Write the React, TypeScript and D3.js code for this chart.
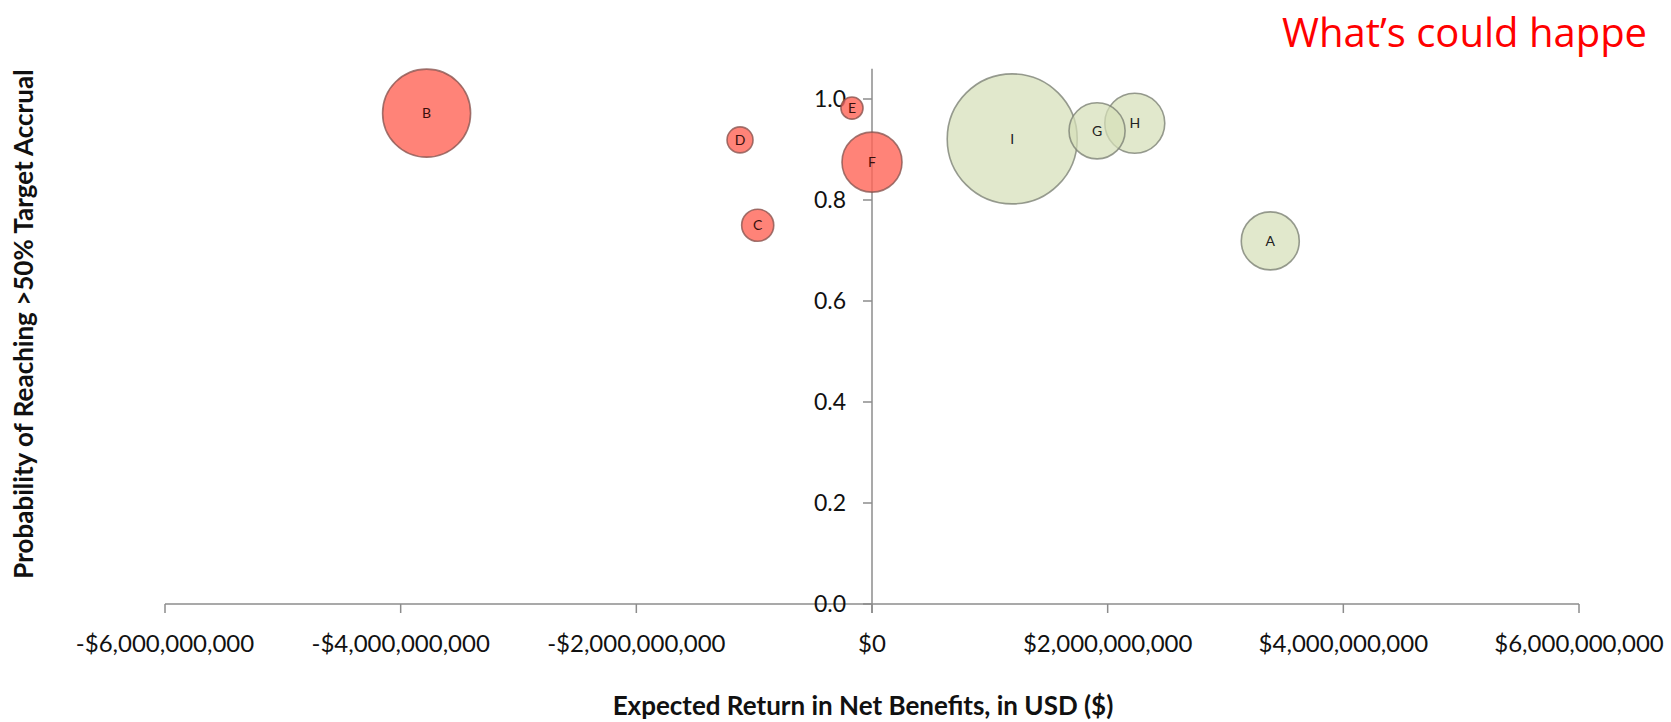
import React from "react";
import * as d3 from "d3";

const names = ["A", "B", "C", "D", "E", "F", "G", "H", "I"];
const expectedReturn = [3.38e9, -3.78e9, -0.97e9, -1.12e9, -0.17e9, 0.0, 1.91e9, 2.23e9, 1.19e9];
const probability = [0.719, 0.972, 0.75, 0.919, 0.982, 0.875, 0.937, 0.952, 0.921];
const bubbleSize = [19.9, 45.8, 6.1, 4.0, 2.9, 21.3, 18.6, 21.3, 100];
const xTicks = [-6e9, -4e9, -2e9, 0, 2e9, 4e9, 6e9];
const yTicks = [0, 0.2, 0.4, 0.6, 0.8, 1.0];

const W = 1671;
const H = 722;

export default function App() {
  const x = d3.scaleLinear().domain([-6e9, 6e9]).range([165, 1579]);
  const y = d3.scaleLinear().domain([0, 1]).range([604, 99]);
  const r = d3.scaleSqrt().domain([0, 100]).range([0, 65]);
  const yTop = 1.06;
  const locale = d3.formatLocale({ decimal: ".", thousands: ",", grouping: [3], currency: ["$", ""], minus: "-" });
  const fx = locale.format("$,");
  const fy = d3.format(".1f");
  const font = "Lato, 'Open Sans', sans-serif";
  const axisColor = "#8c8c8c";

  const data = names.map((n, i) => ({
    name: n,
    x: expectedReturn[i],
    y: probability[i],
    s: bubbleSize[i],
    neg: expectedReturn[i] <= 0,
  }));
  const order = [...data].sort((a, b) => b.s - a.s);

  return (
    <svg width={W} height={H} style={{ position: "absolute", left: 0, top: 0, background: "#fff" }} fontFamily={font}>
      {/* x axis */}
      <line x1={x(-6e9)} x2={x(6e9)} y1={y(0)} y2={y(0)} stroke={axisColor} strokeWidth={1.5} />
      {xTicks.map((t) => (
        <g key={"xt" + t}>
          <line x1={x(t)} x2={x(t)} y1={y(0)} y2={y(0) + 9} stroke={axisColor} strokeWidth={1.5} />
          <text x={x(t)} y={y(0) + 48} textAnchor="middle" fontSize={24} fill="#111">
            {fx(t)}
          </text>
        </g>
      ))}
      {/* y axis */}
      <line x1={x(0)} x2={x(0)} y1={y(0) + 9} y2={y(yTop)} stroke={axisColor} strokeWidth={1.5} />
      {yTicks.map((t) => (
        <g key={"yt" + t}>
          <line x1={x(0) - 9} x2={x(0)} y1={y(t)} y2={y(t)} stroke={axisColor} strokeWidth={1.5} />
          <text x={x(0) - 26} y={y(t)} dy="0.36em" textAnchor="end" fontSize={23} fill="#111">
            {fy(t)}
          </text>
        </g>
      ))}
      {/* bubbles */}
      {order.map((d) => (
        <circle
          key={d.name}
          cx={x(d.x)}
          cy={y(d.y)}
          r={r(d.s)}
          fill={d.neg ? "#FF6456" : "#D5DFB8"}
          fillOpacity={d.neg ? 0.8 : 0.72}
          stroke={d.neg ? "#8a5550" : "#7d8276"}
          strokeOpacity={0.8}
          strokeWidth={1.6}
        />
      ))}
      {data.map((d) => (
        <text
          key={"l" + d.name}
          x={x(d.x)}
          y={y(d.y)}
          dy="0.36em"
          textAnchor="middle"
          fontSize={14}
          fill={d.neg ? "#3a0f0c" : "#222"}
        >
          {d.name}
        </text>
      ))}
      {/* axis titles */}
      <text x={863} y={715} textAnchor="middle" fontSize={26} fontWeight="bold" fill="#111">
        Expected Return in Net Benefits, in USD ($)
      </text>
      <text
        transform={`translate(33,${324}) rotate(-90)`}
        textAnchor="middle"
        fontSize={26}
        fontWeight="bold"
        fill="#111"
      >
        Probability of Reaching &gt;50% Target Accrual
      </text>
      {/* red annotation (as visible in the reference) */}
      <text x={1282} y={47} fontSize={40} fill="#FF0000" fontFamily="'Open Sans', Lato, sans-serif">
        What’s could happe
      </text>
    </svg>
  );
}
